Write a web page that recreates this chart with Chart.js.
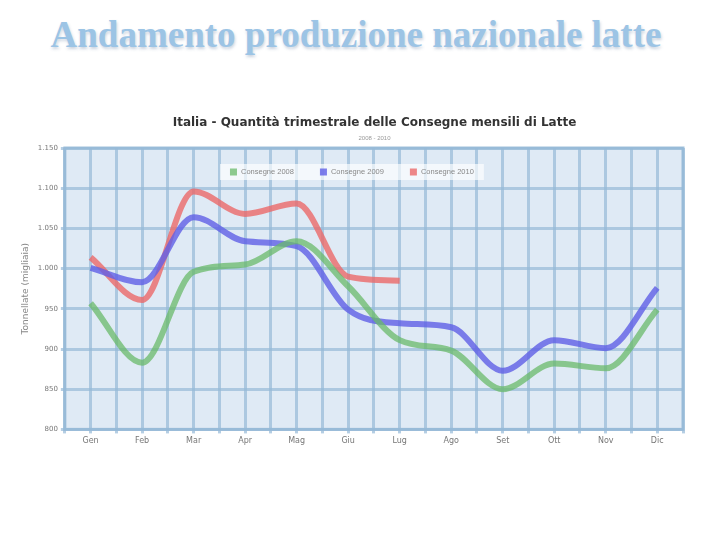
<!DOCTYPE html>
<html lang="it">
<head>
    <meta charset="UTF-8">
    <title>Andamento produzione nazionale latte</title>
    <script src="https://cdn.jsdelivr.net/npm/chart.js"></script>
    <style>
        body {
            margin: 0;
            width: 720px;
            height: 540px;
            background-color: #ffffff;
            position: relative;
            overflow: hidden;
        }
        .titolo {
            position: absolute;
            top: 13px;
            left: -4px;
            width: 720px;
            text-align: center;
            font-family: "Liberation Serif", serif;
            font-weight: bold;
            font-size: 37px;
            color: #9cc4e5;
            text-shadow: 1px 2px 3px rgba(80, 110, 150, 0.3);
        }
        .grafico {
            position: absolute;
            top: 105px;
            left: 0;
            width: 720px;
            height: 350px;
        }
        .titolo-grafico {
            position: absolute;
            top: 115px;
            left: 66px;
            width: 617px;
            text-align: center;
            font-family: "DejaVu Sans", sans-serif;
            font-weight: bold;
            font-size: 12px;
            color: #333;
        }
        .sottotitolo {
            position: absolute;
            top: 135px;
            left: 66px;
            width: 617px;
            text-align: center;
            font-family: Arial, sans-serif;
            font-size: 6px;
            color: #999;
        }
    </style>
</head>
<body>
    <div class="titolo">Andamento produzione nazionale latte</div>
    <div class="grafico">
        <canvas id="latteChart"></canvas>
    </div>
    <div class="titolo-grafico">Italia - Quantità trimestrale delle Consegne mensili di Latte</div>
    <div class="sottotitolo">2008 - 2010</div>

    <script>
        const mesi = ['Gen', 'Feb', 'Mar', 'Apr', 'Mag', 'Giu', 'Lug', 'Ago', 'Set', 'Ott', 'Nov', 'Dic'];
        const consegne2008 = [957, 883, 996, 1005, 1034, 978, 911, 898, 850, 882, 876, 949];
        const consegne2009 = [1001, 983, 1064, 1034, 1028, 949, 932, 927, 873, 911, 901, 976];
        const consegne2010 = [1014, 961, 1096, 1068, 1081, 990, 985];

        function punti(valori) {
            return valori.map((v, i) => ({ x: i, y: v }));
        }

        function formatta(n) {
            const s = String(n);
            return s.length > 3 ? s.slice(0, -3) + '.' + s.slice(-3) : s;
        }

        // sfondo area grafico, bordo e legenda dentro l'area
        const sfondo = {
            id: 'sfondo',
            beforeDraw(chart) {
                const { ctx, chartArea: a } = chart;
                ctx.save();
                ctx.fillStyle = '#dfeaf5';
                ctx.fillRect(a.left, a.top, a.right - a.left, a.bottom - a.top);
                ctx.restore();
            },
            afterDraw(chart) {
                const { ctx, chartArea: a } = chart;
                ctx.save();
                ctx.strokeStyle = 'rgba(150,185,215,0.9)';
                ctx.lineWidth = 3;
                ctx.strokeRect(a.left, a.top, a.right - a.left, a.bottom - a.top);

                // legenda
                ctx.font = '7.5px Arial';
                const voci = chart.data.datasets.map(d => ({
                    testo: d.label,
                    colore: d.borderColor,
                    w: 11 + ctx.measureText(d.label).width
                }));
                const spazio = 26;
                const totale = voci.reduce((s, v) => s + v.w, 0) + spazio * (voci.length - 1);
                let x = (a.left + a.right) / 2 - totale / 2 - 22;
                const y = a.top + 24;
                ctx.fillStyle = 'rgba(255,255,255,0.65)';
                ctx.fillRect(x - 10, y - 8, totale + 20, 16);
                ctx.textBaseline = 'middle';
                voci.forEach(v => {
                    ctx.fillStyle = v.colore;
                    ctx.fillRect(x, y - 3.5, 7, 7);
                    ctx.fillStyle = '#888';
                    ctx.fillText(v.testo, x + 11, y);
                    x += v.w + spazio;
                });
                ctx.restore();
            }
        };

        const ctx = document.getElementById('latteChart').getContext('2d');
        new Chart(ctx, {
            type: 'line',
            data: {
                datasets: [
                    {
                        label: 'Consegne 2008',
                        data: punti(consegne2008),
                        borderColor: 'rgba(105,185,105,0.75)',
                        backgroundColor: 'rgba(105,185,105,0.75)'
                    },
                    {
                        label: 'Consegne 2009',
                        data: punti(consegne2009),
                        borderColor: 'rgba(95,95,230,0.8)',
                        backgroundColor: 'rgba(95,95,230,0.8)'
                    },
                    {
                        label: 'Consegne 2010',
                        data: punti(consegne2010),
                        borderColor: 'rgba(235,105,105,0.8)',
                        backgroundColor: 'rgba(235,105,105,0.8)'
                    }
                ]
            },
            options: {
                responsive: true,
                maintainAspectRatio: false,
                animation: false,
                layout: { padding: { left: 16, right: 37, bottom: 6, top: 43 } },
                elements: {
                    line: { borderWidth: 6, cubicInterpolationMode: 'monotone' },
                    point: { radius: 0 }
                },
                plugins: {
                    legend: { display: false },
                    tooltip: { enabled: false }
                },
                scales: {
                    x: {
                        type: 'linear',
                        min: -0.5,
                        max: 11.5,
                        grid: { color: 'rgba(150,185,215,0.7)', lineWidth: 3, tickLength: 4 },
                        border: { display: false },
                        ticks: {
                            stepSize: 0.5,
                            includeBounds: false,
                            autoSkip: false,
                            maxRotation: 0,
                            color: '#777',
                            font: { family: 'DejaVu Sans', size: 8 },
                            callback: v => Number.isInteger(v) ? mesi[v] : ''
                        }
                    },
                    y: {
                        min: 800,
                        max: 1150,
                        grid: { color: 'rgba(150,185,215,0.7)', lineWidth: 3, tickLength: 4 },
                        border: { display: false },
                        ticks: {
                            stepSize: 50,
                            color: '#777',
                            font: { family: 'DejaVu Sans', size: 7 },
                            callback: v => formatta(v)
                        },
                        title: {
                            display: true,
                            text: 'Tonnellate (migliaia)',
                            color: '#888',
                            font: { family: 'DejaVu Sans', size: 9 }
                        }
                    }
                }
            },
            plugins: [sfondo]
        });
    </script>
</body>
</html>
